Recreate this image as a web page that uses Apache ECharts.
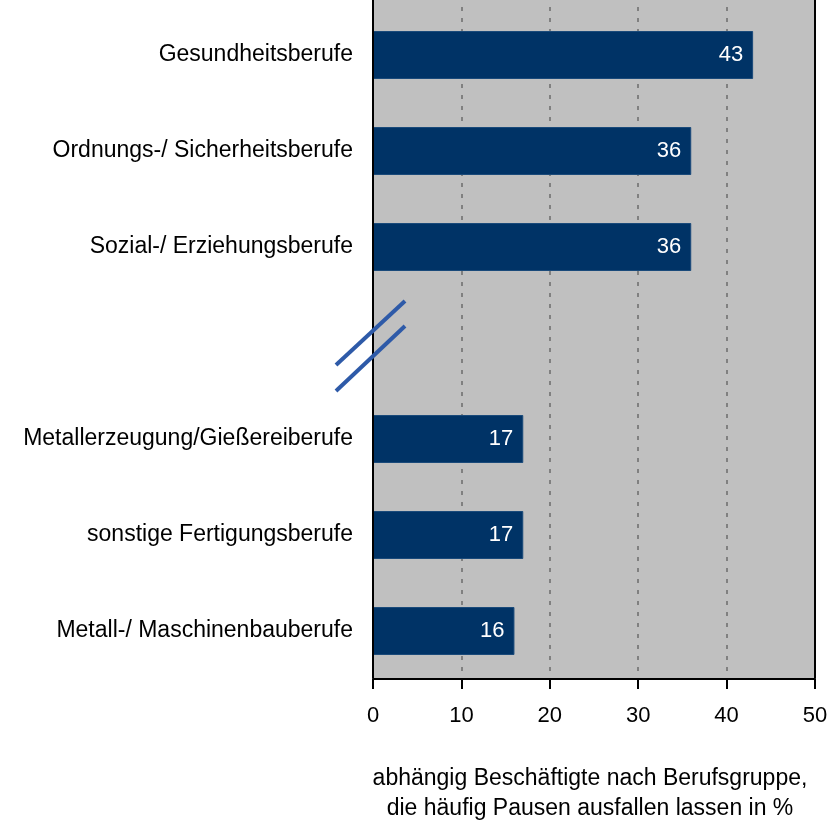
<!DOCTYPE html>
<html>
<head>
<meta charset="utf-8">
<script src="https://cdn.jsdelivr.net/npm/echarts@6/dist/echarts.min.js"></script>
<style>
  html, body { margin: 0; padding: 0; background: #fff; }
  #chart { width: 839px; height: 824px; }
</style>
</head>
<body>
<div id="chart"></div>
<script>
// Berufsgruppen, leere Kategorie = Achsenbruch
var categories = ['Gesundheitsberufe', 'Ordnungs-/ Sicherheitsberufe', 'Sozial-/ Erziehungsberufe', '',
  'Metallerzeugung/Gießereiberufe', 'sonstige Fertigungsberufe', 'Metall-/ Maschinenbauberufe'];
var values = [43, 36, 36, null, 17, 17, 16];
var xTicks = [0, 10, 20, 30, 40, 50];
var axisTitle = 'abhängig Beschäftigte nach Berufsgruppe,\ndie häufig Pausen ausfallen lassen in %';

var font = 'Liberation Sans, Arial, sans-serif';
var chart = echarts.init(document.getElementById('chart'));

var option = {
  animation: false,
  textStyle: { fontFamily: font },
  graphic: [
    // grauer Hintergrund + Rahmen (reicht bis ganz oben)
    { type: 'rect', z: -10, shape: { x: 373, y: 0, width: 442, height: 678 }, style: { fill: '#c0c0c0' } },
    { type: 'line', z: 10, shape: { x1: 373, y1: 0, x2: 373, y2: 678 }, style: { stroke: '#000', lineWidth: 2 } },
    { type: 'line', z: 10, shape: { x1: 815, y1: 0, x2: 815, y2: 678 }, style: { stroke: '#000', lineWidth: 2 } }
  ],
  grid: { left: 373, right: 24, top: 7, bottom: 145, containLabel: false, outerBoundsMode: 'none' },
  xAxis: {
    type: 'value',
    min: 0, max: 50, interval: 10,
    axisLine: { show: true, lineStyle: { color: '#000', width: 2 } },
    axisTick: { show: true, inside: false, length: 10, lineStyle: { color: '#000', width: 2 } },
    axisLabel: { fontSize: 22, color: '#000', margin: 26,
      formatter: function (v) { return xTicks.indexOf(v) >= 0 ? String(v) : ''; } },
    splitLine: { show: true, lineStyle: { color: '#808080', type: [4, 7], width: 2 } },
    name: axisTitle,
    nameLocation: 'middle',
    nameGap: 85,
    nameTextStyle: { fontSize: 23, color: '#000', lineHeight: 30, padding: [0, 0, 0, -8] }
  },
  yAxis: {
    type: 'category',
    data: categories,
    inverse: true,
    axisLine: { show: false },
    axisTick: { show: false },
    axisLabel: { fontSize: 23, color: '#000', margin: 20 }
  },
  series: [{
    type: 'bar',
    data: values,
    barWidth: 48,
    itemStyle: { color: '#003366', borderColor: '#1a4a7a', borderWidth: 1 },
    label: {
      show: true, position: 'insideRight', distance: 10,
      color: '#fff', fontSize: 22
    }
  }]
};
chart.setOption(option);

// Achsenbruch-Markierung an der leeren Kategorie
var c = chart.convertToPixel({ yAxisIndex: 0 }, 3);
var gx = 373;
chart.setOption({
  graphic: option.graphic.concat([
    { type: 'line', z: 20, shape: { x1: gx - 37, y1: c + 22, x2: gx + 32, y2: c - 42 },
      style: { stroke: '#2e5aa8', lineWidth: 4 } },
    { type: 'line', z: 20, shape: { x1: gx - 37, y1: c + 48, x2: gx + 32, y2: c - 17 },
      style: { stroke: '#2e5aa8', lineWidth: 4 } }
  ])
});
</script>
</body>
</html>
